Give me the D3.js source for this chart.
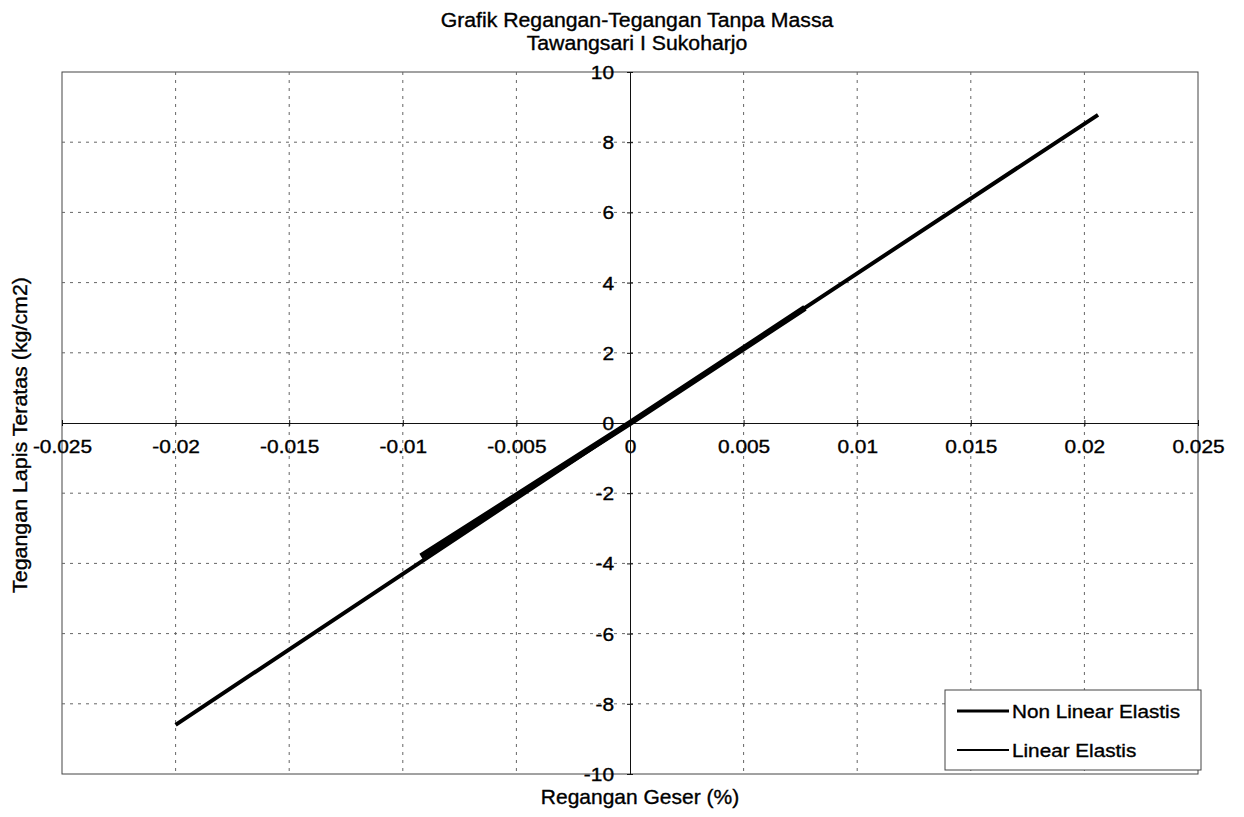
<!DOCTYPE html>
<html><head><meta charset="utf-8">
<script src="https://cdn.jsdelivr.net/npm/d3@7"></script>
<style>body{margin:0;background:#fff;}svg{display:block;font-family:"Liberation Sans",Arial,sans-serif;} text{stroke:#000;stroke-width:0.35px;}</style>
</head><body><svg id="c" width="1244" height="817"></svg>
<script>
const titleLines = ["Grafik Regangan-Tegangan Tanpa Massa", "Tawangsari I Sukoharjo"];
const xLabel = "Regangan Geser (%)";
const yLabel = "Tegangan Lapis Teratas (kg/cm2)";
const xTicks = [-0.025, -0.02, -0.015, -0.01, -0.005, 0, 0.005, 0.01, 0.015, 0.02, 0.025];
const xTickLabels = ["-0.025","-0.02","-0.015","-0.01","-0.005","0","0.005","0.01","0.015","0.02","0.025"];
const yTicks = [-10, -8, -6, -4, -2, 0, 2, 4, 6, 8, 10];
const yTickLabels = ["-10","-8","-6","-4","-2","0","2","4","6","8","10"];
const seriesNames = ["Non Linear Elastis", "Linear Elastis"];
const nonLinearX = [-0.0200, 0.0000, 0.0206];
const nonLinearY = [-8.60, 0.00, 8.78];
const linearX = [-0.0092, 0.0000, 0.0077];
const linearY = [-3.80, 0.00, 3.28];

const svg = d3.select("#c");
const L = 62, R = 1198, T = 72, B = 774;
const x = d3.scaleLinear().domain([-0.025, 0.025]).range([L, R]);
const y = d3.scaleLinear().domain([-10, 10]).range([B, T]);

function label(parent, tx, ty, str, fs, sx, anchor, rot) {
  return parent.append("text")
    .attr("transform", `translate(${tx},${ty})${rot ? " rotate(" + rot + ")" : ""} scale(${sx},1)`)
    .attr("text-anchor", anchor).attr("font-size", fs).attr("fill", "#000").text(str);
}

// plot border
svg.append("rect").attr("x", L).attr("y", T).attr("width", R - L).attr("height", B - T)
  .attr("fill", "none").attr("stroke", "#444").attr("stroke-width", 1);

// grid
const g = svg.append("g").attr("stroke", "#666").attr("stroke-width", 1).attr("stroke-dasharray", "3,5");
xTicks.filter(v => v !== 0 && Math.abs(v) < 0.025).forEach(v => {
  g.append("line").attr("x1", x(v)).attr("x2", x(v)).attr("y1", T).attr("y2", B);
});
yTicks.filter(v => v !== 0 && Math.abs(v) < 10).forEach(v => {
  g.append("line").attr("x1", L).attr("x2", R).attr("y1", y(v)).attr("y2", y(v));
});

// axes through zero
const TFS = 18, TSX = 1.16;
const xAxis = d3.axisBottom(x).tickValues(xTicks).tickSize(0).tickFormat((d, i) => xTickLabels[i]);
const yAxis = d3.axisLeft(y).tickValues(yTicks).tickSize(0).tickFormat((d, i) => yTickLabels[i]);
const xa = svg.append("g").attr("transform", `translate(0,${y(0)})`).call(xAxis);
xa.select(".domain").attr("stroke", "#111");
xa.selectAll("text").attr("font-size", TFS).attr("fill", "#000").attr("font-family", "Liberation Sans, Arial, sans-serif")
  .attr("y", 0).attr("dy", 0).attr("transform", `translate(0,30) scale(${TSX},1)`);
const ya = svg.append("g").attr("transform", `translate(${x(0)},0)`).call(yAxis);
ya.select(".domain").attr("stroke", "#111");
ya.selectAll("text").attr("font-size", TFS).attr("fill", "#000").attr("font-family", "Liberation Sans, Arial, sans-serif")
  .attr("x", 0).attr("dy", "0.36em").attr("transform", `translate(-16,0) scale(${TSX},1)`);
// small crossing tick marks
ya.selectAll(".tick").append("line").attr("x1", -3).attr("x2", 3).attr("stroke", "#111");
xa.selectAll(".tick").append("line").attr("y1", -3).attr("y2", 3).attr("stroke", "#111");

// series
const line = d3.line().x(d => x(d[0])).y(d => y(d[1]));
svg.append("path").datum(nonLinearX.map((v, i) => [v, nonLinearY[i]]))
  .attr("d", line).attr("fill", "none").attr("stroke", "#000").attr("stroke-width", 4);
svg.append("path").datum(linearX.map((v, i) => [v, linearY[i]]))
  .attr("d", line).attr("fill", "none").attr("stroke", "#000").attr("stroke-width", 6);

// legend
const lg = svg.append("g");
lg.append("rect").attr("x", 945).attr("y", 690).attr("width", 256).attr("height", 80)
  .attr("fill", "#fff").attr("stroke", "#444").attr("stroke-width", 1);
const lw = [3, 2];
seriesNames.forEach((n, i) => {
  const yy = 711 + i * 39;
  lg.append("line").attr("x1", 957).attr("x2", 1009).attr("y1", yy).attr("y2", yy)
    .attr("stroke", "#000").attr("stroke-width", lw[i]);
  label(lg, 1012, yy + 6.5, n, 18.5, 1.12, "start");
});

// titles
titleLines.forEach((t, i) => label(svg, 637, 27 + i * 23, t, 19.5, 1.09, "middle"));
label(svg, 640, 804, xLabel, 20, 1.05, "middle");
label(svg, 27, 435, yLabel, 20, 1.07, "middle", -90);
</script></body></html>
